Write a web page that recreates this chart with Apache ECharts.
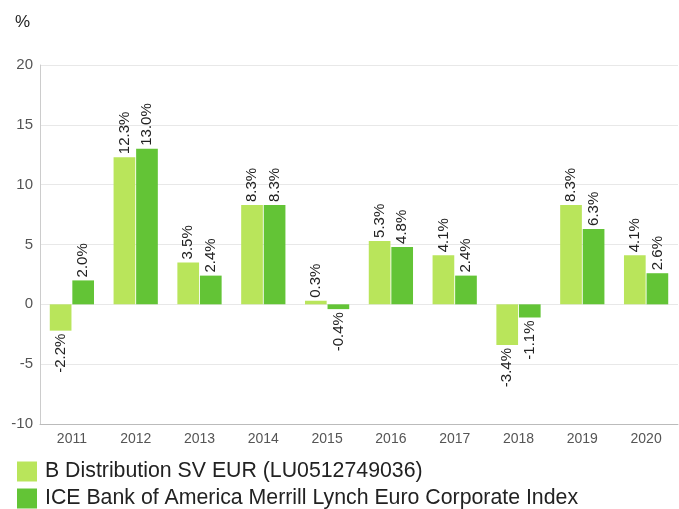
<!DOCTYPE html>
<html>
<head>
<meta charset="utf-8">
<script src="https://cdn.jsdelivr.net/npm/echarts@6/dist/echarts.min.js"></script>
<style>
  html, body { margin: 0; padding: 0; background: #fff; }
  #chart { width: 679px; height: 509px; }
</style>
</head>
<body>
<div id="chart"></div>
<script>
const years = ['2011', '2012', '2013', '2014', '2015', '2016', '2017', '2018', '2019', '2020']
const fundName = 'B Distribution SV EUR (LU0512749036)'
const indexName = 'ICE Bank of America Merrill Lynch Euro Corporate Index'
const fundValues = [-2.2, 12.3, 3.5, 8.3, 0.3, 5.3, 4.1, -3.4, 8.3, 4.1]
const indexValues = [2.0, 13.0, 2.4, 8.3, -0.4, 4.8, 2.4, -1.1, 6.3, 2.6]

const font = '"Liberation Sans", Arial, sans-serif'

// negative bars get their label below, reading up towards the bar
function withLabels(values) {
  return values.map((v) => ({
    value: v,
    label: { align: v < 0 ? 'right' : 'left' },
  }))
}

const barLabel = {
  show: true,
  position: 'outside',
  rotate: 90,
  distance: 3,
  verticalAlign: 'middle',
  color: '#222',
  fontSize: 15,
  fontFamily: font,
  formatter: (p) => p.value.toFixed(1) + '%',
}

const chart = echarts.init(document.getElementById('chart'))
chart.setOption({
  animation: false,
  title: {
    text: '%',
    left: 10,
    top: 9,
    textStyle: { color: '#222', fontSize: 17, fontWeight: 'normal', fontFamily: font },
  },
  legend: {
    orient: 'vertical',
    left: 17,
    top: 461,
    height: 48,
    padding: 0,
    itemWidth: 20,
    itemHeight: 20,
    itemGap: 6,
    icon: 'rect',
    textStyle: { color: '#222', fontSize: 21.3, lineHeight: 20, fontFamily: font, padding: [1, 0, 0, 3] },
    data: [fundName, indexName],
  },
  grid: { left: 40, right: 1, top: 65, bottom: 85 },
  xAxis: {
    type: 'category',
    data: years,
    axisLine: { onZero: false, lineStyle: { color: '#bbb' } },
    axisTick: { show: false },
    axisLabel: { color: '#555', fontSize: 14, fontFamily: font, margin: 8 },
  },
  yAxis: {
    type: 'value',
    min: -10,
    max: 20,
    interval: 5,
    axisLine: { show: true, lineStyle: { color: '#ccc' } },
    axisTick: { show: false },
    axisLabel: { color: '#555', fontSize: 15, fontFamily: font, margin: 7 },
    splitLine: { lineStyle: { color: '#e8e8e8' } },
  },
  series: [
    {
      name: fundName,
      type: 'bar',
      data: withLabels(fundValues),
      barWidth: '34%',
      barGap: '4%',
      itemStyle: { color: '#b9e55b' },
      label: barLabel,
    },
    {
      name: indexName,
      type: 'bar',
      data: withLabels(indexValues),
      barWidth: '34%',
      barGap: '4%',
      itemStyle: { color: '#63c436' },
      label: barLabel,
    },
  ],
})
</script>
</body>
</html>
